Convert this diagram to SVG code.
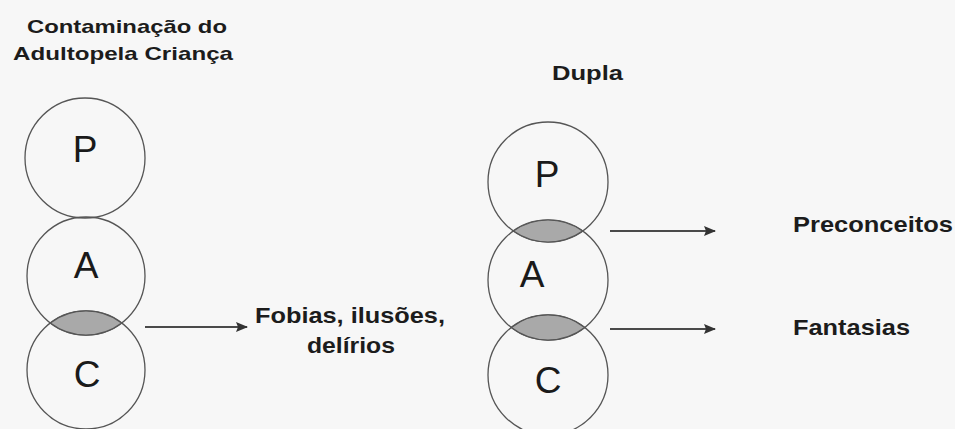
<svg xmlns="http://www.w3.org/2000/svg" width="955" height="429" viewBox="0 0 955 429">
<style>
.ring{fill:none;stroke:#555;stroke-width:1.3}
.lens{fill:#a9a9a9;stroke:#555;stroke-width:1.2}
.big{font-family:"Liberation Sans","Open Sans",sans-serif;font-size:37px;fill:#1a1a1a;text-anchor:middle}
.lbl{font-family:"Liberation Sans",Arial,sans-serif;font-weight:bold;fill:#1c1c1c}
.con{stroke:#4a4a4a;stroke-width:1.8;fill:none}
</style>
<defs>
<marker id="ah" markerWidth="12" markerHeight="10" refX="11" refY="5" orient="auto" markerUnits="userSpaceOnUse">
<path d="M0,0 L12,5 L0,10 L2,5 Z" fill="#333"/>
</marker>
</defs>
<rect width="955" height="429" fill="#f7f7f7"/>
<g id="titles">
<text class="lbl" x="27" y="33" font-size="19" textLength="200" lengthAdjust="spacingAndGlyphs">Contaminação do</text>
<text class="lbl" x="13" y="60" font-size="19" textLength="220" lengthAdjust="spacingAndGlyphs">Adultopela Criança</text>
<text class="lbl" x="552" y="80" font-size="20" textLength="71" lengthAdjust="spacingAndGlyphs">Dupla</text>
</g>
<g id="left-P"><circle class="ring" cx="85" cy="158" r="60"/><text class="big" x="85" y="162">P</text></g>
<g id="left-A"><circle class="ring" cx="86" cy="276" r="59"/><text class="big" x="86" y="278">A</text></g>
<g id="left-C"><circle class="ring" cx="86" cy="370" r="59"/><text class="big" x="87" y="387">C</text></g>
<g id="left-lens"><path class="lens" d="M50.3 323 A59 59 0 0 1 121.7 323 A59 59 0 0 1 50.3 323 Z"/></g>
<g id="right-P"><circle class="ring" cx="548" cy="182" r="60"/><text class="big" x="547" y="187">P</text></g>
<g id="right-A"><circle class="ring" cx="548" cy="280" r="60"/><text class="big" x="532" y="287">A</text></g>
<g id="right-C"><circle class="ring" cx="548" cy="375" r="60"/><text class="big" x="548" y="393">C</text></g>
<g id="right-lens1"><path class="lens" d="M513.4 231 A60 60 0 0 1 582.6 231 A60 60 0 0 1 513.4 231 Z"/></g>
<g id="right-lens2"><path class="lens" d="M511.3 327.5 A60 60 0 0 1 584.7 327.5 A60 60 0 0 1 511.3 327.5 Z"/></g>
<g id="connectors">
<line class="con" x1="145" y1="327" x2="247" y2="327" marker-end="url(#ah)"/>
<line class="con" x1="610" y1="231" x2="715" y2="231" marker-end="url(#ah)"/>
<line class="con" x1="610" y1="329" x2="715" y2="329" marker-end="url(#ah)"/>
</g>
<g id="label-fobias">
<text class="lbl" x="255" y="323" font-size="22" textLength="190" lengthAdjust="spacingAndGlyphs">Fobias, ilusões,</text>
<text class="lbl" x="307" y="353" font-size="22" textLength="88" lengthAdjust="spacingAndGlyphs">delírios</text>
</g>
<g id="label-preconceitos"><text class="lbl" x="793" y="232" font-size="22" textLength="160" lengthAdjust="spacingAndGlyphs">Preconceitos</text></g>
<g id="label-fantasias"><text class="lbl" x="793" y="335" font-size="22" textLength="117" lengthAdjust="spacingAndGlyphs">Fantasias</text></g>
</svg>
